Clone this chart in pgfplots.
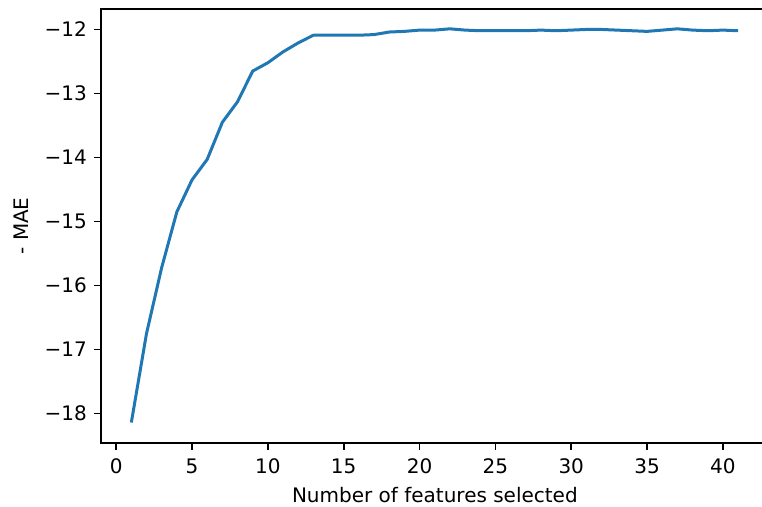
\documentclass[border=0pt]{standalone}
\usepackage{pgfplots}
\pgfplotsset{compat=1.18}
\usepackage{fontspec}
\setmainfont{DejaVu Sans}
\definecolor{mplblue}{HTML}{1F77B4}
\begin{document}
\begin{tikzpicture}
\begin{axis}[
  at={(0,0)}, anchor=south west,
  scale only axis,
  width=348.9pt, height=217pt,
  xmin=-1, xmax=45, ymin=-18.46, ymax=-11.68,
  xtick={0,5,...,40},
  ytick={-18,-17,...,-12},
  yticklabels={−18,−17,−16,−15,−14,−13,−12},
  xtick pos=bottom, ytick pos=left,
  tick align=outside,
  major tick length=3.5pt,
  every tick/.style={black, line width=0.8pt},
  axis line style={line width=0.8pt},
  /pgf/number format/assume math mode=true,
  ticklabel style={font=\fontsize{10}{12}\selectfont},
  xticklabel style={yshift=-1pt},
  label style={font=\fontsize{10}{12}\selectfont},
  xlabel={Number of features selected},
  ylabel={- MAE},
  xlabel style={yshift=0.5pt, xshift=-7.5pt},
  ylabel style={yshift=1pt},
]
\addplot[mplblue, line width=1.5pt, line join=round] coordinates {
(1,-18.14) (2,-16.75) (3,-15.72) (4,-14.85) (5,-14.35) (6,-14.03)
(7,-13.45) (8,-13.13) (9,-12.65) (10,-12.52) (11,-12.35) (12,-12.21)
(13,-12.09) (14,-12.09) (15,-12.09) (16,-12.09) (17,-12.08) (18,-12.04)
(19,-12.03) (20,-12.01) (21,-12.01) (22,-11.99) (23,-12.01) (24,-12.02)
(25,-12.02) (26,-12.02) (27,-12.02) (28,-12.01) (29,-12.02) (30,-12.01)
(31,-12.00) (32,-12.00) (33,-12.01) (34,-12.02) (35,-12.03) (36,-12.01)
(37,-11.99) (38,-12.01) (39,-12.02) (40,-12.01) (41,-12.02)
};
\end{axis}
\pgfresetboundingbox
\path[use as bounding box] (-50.5pt,-32pt) rectangle (330.5pt,221.5pt);
\end{tikzpicture}
\end{document}
